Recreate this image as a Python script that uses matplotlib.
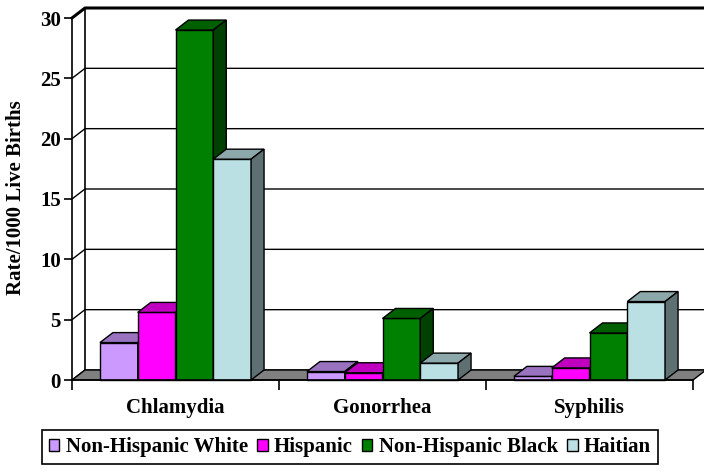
import numpy as np
import matplotlib
matplotlib.use('Agg')
import matplotlib.pyplot as plt
from matplotlib.patches import Polygon, Patch

plt.rcParams['font.family'] = 'Liberation Serif'
plt.rcParams['font.weight'] = 'bold'

categories = ['Chlamydia', 'Gonorrhea', 'Syphilis']
series = ['Non-Hispanic White', 'Hispanic', 'Non-Hispanic Black', 'Haitian']
values = {
    'Non-Hispanic White': [3.1, 0.7, 0.3],
    'Hispanic': [5.6, 0.6, 1.0],
    'Non-Hispanic Black': [29.0, 5.1, 3.9],
    'Haitian': [18.3, 1.4, 6.5],
}
colors = ['#CC99FF', '#FF00FF', '#008000', '#BBE0E3']
yticks = [0, 5, 10, 15, 20, 25, 30]

W, H = 704, 472
fig = plt.figure(figsize=(W / 100, H / 100), dpi=100)
# front plane of the chart, in pixel terms
x0, x1, y0, y1 = 72, 693, 380, 18
ax = fig.add_axes([x0 / W, 1 - y0 / H, (x1 - x0) / W, (y0 - y1) / H])
ax.set_xlim(0, 3)
ax.set_ylim(0, 30)

# depth of the 3d box, converted to data units
dpx, dpy = 13, 10
dx = dpx * 3 / (x1 - x0)
dy = dpy * 30 / (y0 - y1)


def shade(c, f):
    r, g, b = matplotlib.colors.to_rgb(c)
    return (r * f, g * f, b * f)


# floor
ax.add_patch(Polygon([(0, 0), (3, 0), (3 + dx, dy), (dx, dy)], closed=True,
                     facecolor='#808080', edgecolor='black', lw=1, clip_on=False, zorder=1))
# walls and gridlines
xr = 3 + 12 * dx
for v in yticks:
    lw = 2.2 if v == 30 else 1
    ax.plot([0, dx, xr], [v, v + dy, v + dy], color='black', lw=lw, clip_on=False, zorder=0.5)
ax.plot([dx, dx], [dy, 30 + dy], color='black', lw=1.2, clip_on=False, zorder=0.5)

# bars
w = 0.1825
gap = (1 - 4 * w) / 2
for g in range(len(categories)):
    for i, s in enumerate(series):
        h = values[s][g]
        l = g + gap + i * w
        r = l + w
        c = colors[i]
        z = 2 + g * 10 + i
        ax.add_patch(Polygon([(l, 0), (r, 0), (r, h), (l, h)], closed=True,
                             facecolor=c, edgecolor='black', lw=1, clip_on=False, zorder=z))
        ax.add_patch(Polygon([(l, h), (r, h), (r + dx, h + dy), (l + dx, h + dy)], closed=True,
                             facecolor=shade(c, 0.75), edgecolor='black', lw=1, clip_on=False, zorder=z))
        ax.add_patch(Polygon([(r, 0), (r + dx, dy), (r + dx, h + dy), (r, h)], closed=True,
                             facecolor=shade(c, 0.5), edgecolor='black', lw=1, clip_on=False, zorder=z))

for sp in ['top', 'right']:
    ax.spines[sp].set_visible(False)
ax.spines['left'].set_linewidth(1.2)
ax.spines['bottom'].set_linewidth(1.2)
ax.spines['left'].set_zorder(0.6)
ax.spines['bottom'].set_zorder(40)

ax.set_yticks(yticks)
ax.tick_params(axis='y', direction='out', length=6, width=1.2, labelsize=15, pad=2)
ax.set_xticks([0, 1, 2, 3])
ax.set_xticklabels([])
ax.set_xticks([0.5, 1.5, 2.5], minor=True)
ax.set_xticklabels(categories, minor=True, fontsize=15, fontweight='bold')
ax.tick_params(axis='x', which='major', direction='out', length=7, width=1.2)
ax.tick_params(axis='x', which='minor', length=0, pad=13)
for t in ax.get_yticklabels():
    t.set_fontweight('bold')

fig.text(16 / W, 1 - 198 / H, 'Rate/1000 Live Births', rotation=90, ha='center', va='center',
         fontsize=15, fontweight='bold')

handles = [Patch(facecolor=c, edgecolor='black', lw=1) for c in colors]
leg = fig.legend(handles, series, loc='center', bbox_to_anchor=(350 / W, 1 - 447 / H), ncol=4,
                 frameon=True, fancybox=False, framealpha=1, edgecolor='black',
                 prop={'size': 15, 'weight': 'bold'}, handlelength=0.5, handleheight=0.5,
                 handletextpad=0.3, columnspacing=0.45, borderpad=0.35, borderaxespad=0)
leg.get_frame().set_linewidth(1.2)

fig.savefig('out.png', dpi=100)
